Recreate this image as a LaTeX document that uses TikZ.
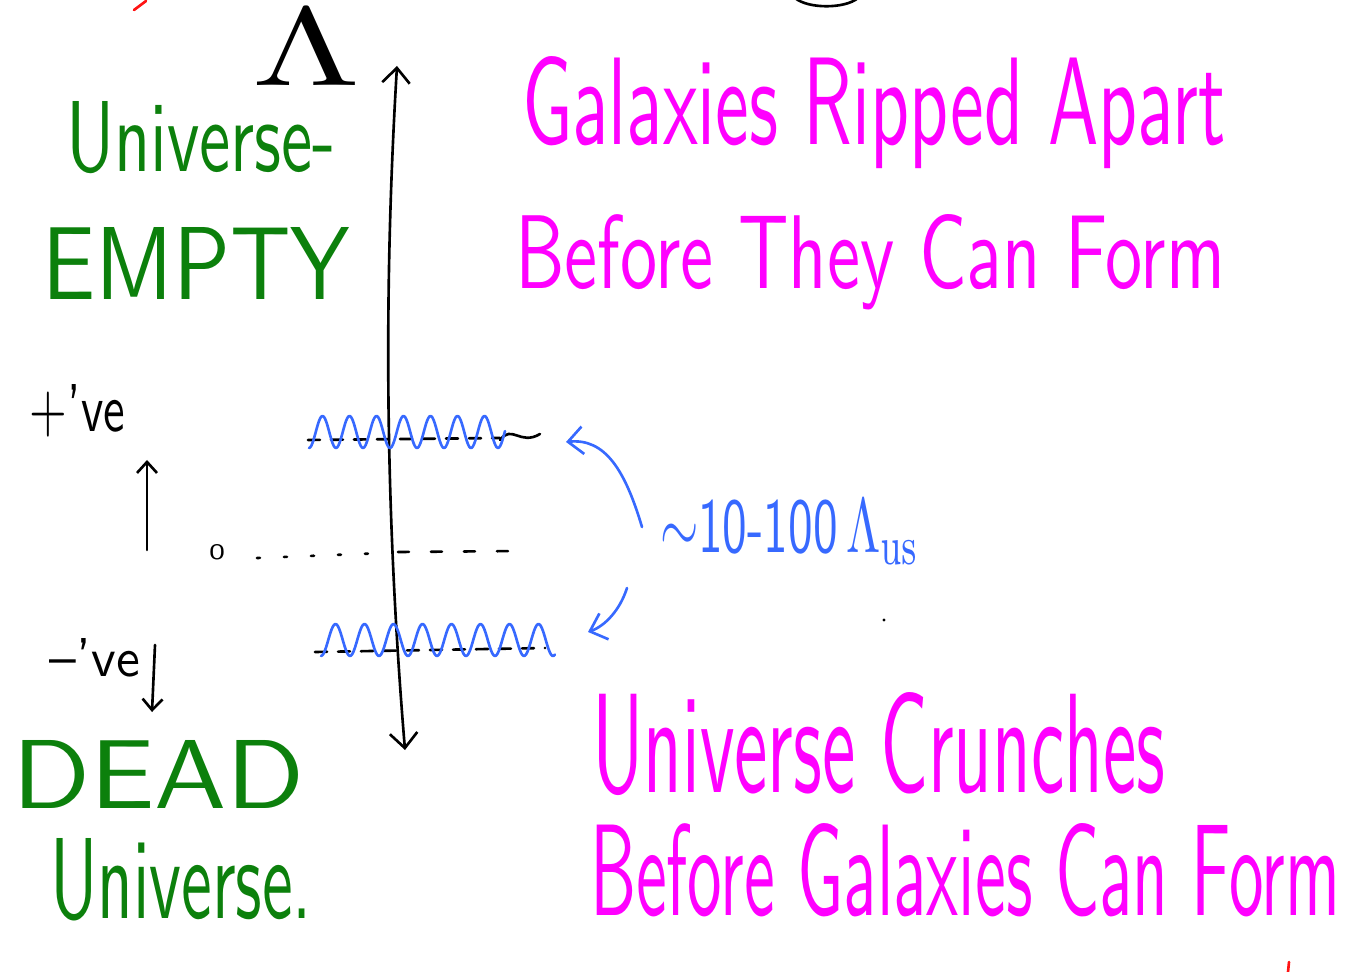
\documentclass[tikz,border=0pt]{standalone}
\usetikzlibrary{arrows.meta}
\newlength\px \setlength\px{0.02cm}
\definecolor{hgreen}{RGB}{12,128,12}
\definecolor{hmag}{RGB}{255,0,255}
\definecolor{hblue}{RGB}{55,105,255}
\definecolor{hred}{RGB}{255,20,20}
\newcommand\fitt[3]{\resizebox{#1\px}{#2\px}{\sffamily #3}}
\begin{document}
\begin{tikzpicture}[x=0.02cm,y=-0.02cm, line cap=round, line join=round,
  ink/.style={line width=1.5pt},
  lbl/.style={anchor=base west, inner sep=0pt, outer sep=0pt},
  barb/.style={-{Straight Barb[length=0.3cm,width=0.55cm]}},
  dbarb/.style={{Straight Barb[length=0.3cm,width=0.55cm]}-{Straight Barb[length=0.3cm,width=0.55cm]}}]
\useasboundingbox (0,0) rectangle (1348,972);

% stray marks
\draw[ink,hred] (134,10) -- (146,1);
\draw[ink,hred] (1289,962) -- (1288,972);
\draw[ink] (795,-2) .. controls (808,9) and (845,9) .. (858,-2);
\fill (884,620) circle (1.6);

% Lambda at top of axis
\node[lbl] (lam) at (252,86) {\resizebox{108\px}{76\px}{$\Lambda$}};

% vertical axis
\coordinate (axtop) at (397,66);
\coordinate (axbot) at (405,750);
\draw[ink,dbarb] (axtop) .. controls (383,300) and (386,520) .. (axbot);

% green labels
\node[lbl,text=hgreen] (univ1) at (66,172) {\fitt{270}{70}{Universe-}};
\node[lbl,text=hgreen] (empty) at (42,300) {\fitt{308}{72}{EMPTY}};
\node[lbl,text=hgreen] (dead) at (12,808) {\fitt{293}{68}{DEAD}};
\node[lbl,text=hgreen] (univ2) at (50,918) {\fitt{262}{80}{Universe.}};

% sign labels
\node[lbl] (pos) at (30,432) {\fitt{95}{47}{+'ve}};
\node[lbl] (neg) at (50,676) {\fitt{90}{38}{--'ve}};
\coordinate (upS) at (147,550);
\coordinate (upE) at (147,460);
\draw[ink,-{Straight Barb[length=0.22cm,width=0.4cm]}] (upS) -- (upE);
\coordinate (dnS) at (155,645);
\coordinate (dnE) at (152,712);
\draw[ink,-{Straight Barb[length=0.22cm,width=0.4cm]}] (dnS) -- (dnE);

% zero level
\node[lbl] (zero) at (209,560) {\fitt{16}{15}{0}};
\draw[ink, dash pattern=on 3\px off 24\px] (257,558) -- (385,553);
\draw[ink, dash pattern=on 11\px off 22\px] (398,552) -- (520,551);

% wavy levels
\draw[ink, dash pattern=on 12\px off 11\px] (308,440) -- (500,438);
\draw[ink] (500,440) .. controls (512,424) and (520,446) .. (540,434);
\draw[ink,hblue] plot[domain=309:505, samples=160] (\x, {432 + 16*cos((\x-309)/27*360)});
\draw[ink, dash pattern=on 12\px off 11\px] (315,652) -- (545,648);
\draw[ink,hblue] plot[domain=321:555, samples=180] (\x, {640 + 16*cos((\x-321)/29*360)});

% blue arrows and label
\coordinate (a1s) at (642,527);
\coordinate (a1e) at (566,442);
\draw[ink,hblue,barb] (a1s) .. controls (625,470) and (605,438) .. (a1e);
\coordinate (a2s) at (627,588);
\coordinate (a2e) at (588,632);
\draw[ink,hblue,barb] (a2s) .. controls (620,610) and (605,626) .. (a2e);
\node[lbl,text=hblue] (scale) at (660,553) {\resizebox{260\px}{53\px}{\sffamily$\sim$10-100\,$\Lambda_{\mathrm{us}}$}};

% magenta texts
\node[lbl,text=hmag] (g1) at (522,145) {\fitt{703}{88}{Galaxies Ripped Apart}};
\node[lbl,text=hmag] (g2) at (515,289) {\fitt{710}{74}{Before They Can Form}};
\node[lbl,text=hmag] (c1) at (592,792) {\fitt{573}{100}{Universe Crunches}};
\node[lbl,text=hmag] (c2) at (590,915) {\fitt{750}{92}{Before Galaxies Can Form}};
\end{tikzpicture}
\end{document}
